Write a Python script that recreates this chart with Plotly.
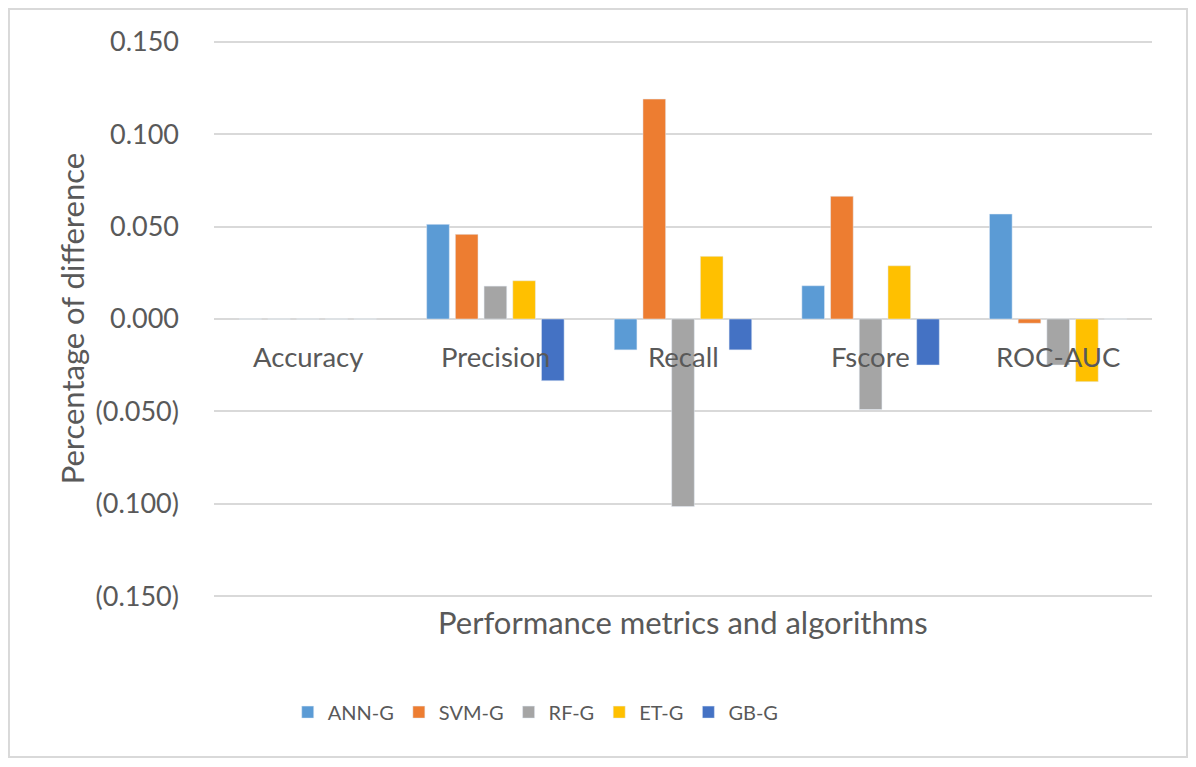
import plotly.graph_objects as go

# metrics on the x axis
metrics = ["Accuracy", "Precision", "Recall", "Fscore", "ROC-AUC"]

# difference values per algorithm
ann_g = [0.0, 0.0512, -0.0167, 0.0180, 0.0568]
svm_g = [0.0, 0.0458, 0.1190, 0.0664, -0.0023]
rf_g = [0.0, 0.0178, -0.1015, -0.0490, -0.0249]
et_g = [0.0, 0.0207, 0.0339, 0.0288, -0.0339]
gb_g = [0.0, -0.0334, -0.0167, -0.0249, 0.0]

series_names = ["ANN-G", "SVM-G", "RF-G", "ET-G", "GB-G"]
series_vals = [ann_g, svm_g, rf_g, et_g, gb_g]
colors = ["#5B9BD5", "#ED7D31", "#A5A5A5", "#FFC000", "#4472C4"]

tick_vals = [0.15, 0.1, 0.05, 0.0, -0.05, -0.1, -0.15]
tick_text = ["0.150", "0.100", "0.050", "0.000", "(0.050)", "(0.100)", "(0.150)"]

font_name = "Lato"
grey = "#595959"

fig = go.Figure()
for name, vals, col in zip(series_names, series_vals, colors):
    fig.add_trace(go.Bar(x=metrics, y=vals, name=name, marker_color=col))

# category labels sit just under the zero line, like Excel does
for m in metrics:
    fig.add_annotation(x=m, y=0, xref="x", yref="y", text=m, showarrow=False,
                       yanchor="top", yshift=-19,
                       font=dict(family=font_name, size=27.5, color=grey))

# axis titles
fig.add_annotation(x=0.5, y=-0.041, xref="paper", yref="paper", xanchor="center",
                   yanchor="middle", text="Performance metrics and algorithms",
                   showarrow=False, font=dict(family=font_name, size=31, color=grey))
fig.add_annotation(x=-0.151, y=0.5, xref="paper", yref="paper", xanchor="center",
                   yanchor="middle", text="Percentage of difference", showarrow=False,
                   textangle=-90, font=dict(family=font_name, size=31, color=grey))

# outer frame
fig.add_shape(type="rect", xref="paper", yref="paper",
              x0=-0.2186, x1=1.0373, y0=-0.2821, y1=1.0536,
              line=dict(color="#d9d9d9", width=2))

fig.update_layout(
    width=1180, height=751,
    margin=dict(l=206, r=36, t=31, b=160),
    paper_bgcolor="white", plot_bgcolor="white",
    barmode="group", bargap=0.235, bargroupgap=0.21,
    font=dict(family=font_name, color=grey),
    legend=dict(orientation="h", x=0.343, xanchor="center", y=-0.202, yanchor="middle",
                font=dict(family=font_name, size=20, color=grey), itemwidth=30),
)
fig.update_xaxes(showticklabels=False, showgrid=False, zeroline=False, showline=False)
fig.update_yaxes(range=[-0.1515, 0.1515], tickvals=tick_vals, ticktext=tick_text,
                 tickfont=dict(family=font_name, size=27, color=grey),
                 showgrid=True, gridcolor="#d9d9d9", gridwidth=2,
                 zeroline=True, zerolinecolor="#d9d9d9", zerolinewidth=2,
                 ticks="", ticklabelstandoff=34)

fig.write_html("out.html")
